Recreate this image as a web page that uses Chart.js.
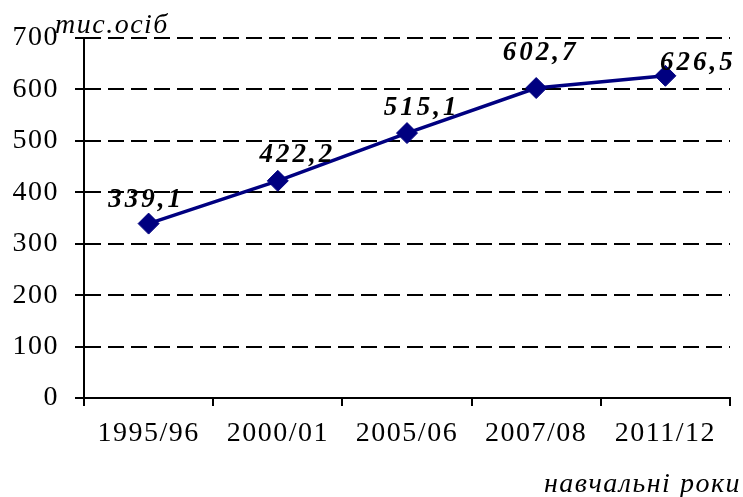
<!DOCTYPE html>
<html lang="uk">
<head>
  <meta charset="UTF-8">
  <title>Студенти, тис. осіб</title>
  <style>
    body { margin: 0; background: #fff; }
    .wrap { width: 743px; height: 497px; position: relative; }
  </style>
</head>
<body>
  <div class="wrap"><canvas id="chart"></canvas></div>

  <script src="https://cdn.jsdelivr.net/npm/chart.js"></script>
  <script>
    // data
    const years = ['1995/96', '2000/01', '2005/06', '2007/08', '2011/12'];
    const students = [339.1, 422.2, 515.1, 602.7, 626.5];
    const yTicks = [0, 100, 200, 300, 400, 500, 600, 700];

    // where each value label sits relative to its point (px)
    const labelShift = [[-4, -24], [18, -26], [13, -25], [3, -35], [31, -13]];

    const serif = "'Liberation Serif', 'Times New Roman', Times, serif";

    // Chart.js has no letter spacing option, so set it on the context
    const spacing = {
      id: 'spacing',
      beforeLayout(chart) { chart.ctx.letterSpacing = '1.5px'; },
      beforeDraw(chart) { chart.ctx.letterSpacing = '1.5px'; }
    };

    const extras = {
      id: 'extras',
      afterDatasetsDraw(chart) {
        const ctx = chart.ctx;
        const meta = chart.getDatasetMeta(0);
        ctx.save();
        ctx.fillStyle = '#000';
        ctx.textAlign = 'center';
        ctx.textBaseline = 'middle';
        ctx.letterSpacing = '3px';
        ctx.font = 'italic bold 27px ' + serif;
        meta.data.forEach((pt, i) => {
          const txt = students[i].toFixed(1).replace('.', ',');
          ctx.fillText(txt, pt.x + labelShift[i][0] + 1.5, pt.y + labelShift[i][1]);
        });

        // axis captions
        ctx.letterSpacing = '1.5px';
        ctx.font = 'italic 28px ' + serif;
        ctx.textAlign = 'left';
        ctx.textBaseline = 'alphabetic';
        ctx.fillText('тис.осіб', 55, 33);
        ctx.textAlign = 'right';
        ctx.fillText('навчальні роки', chart.width - 2, 492);
        ctx.restore();
      }
    };

    new Chart(document.getElementById('chart'), {
      type: 'line',
      data: {
        labels: years,
        datasets: [{
          data: students,
          borderColor: '#000080',
          backgroundColor: '#000080',
          borderWidth: 3.5,
          pointStyle: 'rectRot',
          pointRadius: 10.5,
          pointHoverRadius: 10.5,
          pointBorderWidth: 1,
          tension: 0,
          fill: false
        }]
      },
      options: {
        responsive: true,
        maintainAspectRatio: false,
        animation: false,
        layout: { padding: { top: 38, right: 13, left: 0, bottom: 0 } },
        plugins: {
          legend: { display: false },
          tooltip: { enabled: false }
        },
        scales: {
          x: {
            offset: true,
            grid: {
              offset: true,
              drawOnChartArea: false,
              color: '#000',
              lineWidth: 2,
              tickLength: 8
            },
            border: { color: '#000', width: 2 },
            ticks: {
              color: '#000',
              padding: 11,
              maxRotation: 0,
              font: { family: serif, size: 28 }
            },
            afterFit(scale) { scale.height = 99; }
          },
          y: {
            min: 0,
            max: 700,
            afterBuildTicks(scale) { scale.ticks = yTicks.map(v => ({ value: v })); },
            grid: {
              color: '#000',
              lineWidth: 2,
              tickLength: 9,
              tickBorderDash: [],
              drawTicks: true
            },
            border: { color: '#000', width: 2, dash: [16, 7] },
            ticks: {
              color: '#000',
              padding: 16,
              font: { family: serif, size: 28 }
            },
            afterFit(scale) { scale.width = 84; }
          }
        }
      },
      plugins: [spacing, extras]
    });
  </script>
</body>
</html>
